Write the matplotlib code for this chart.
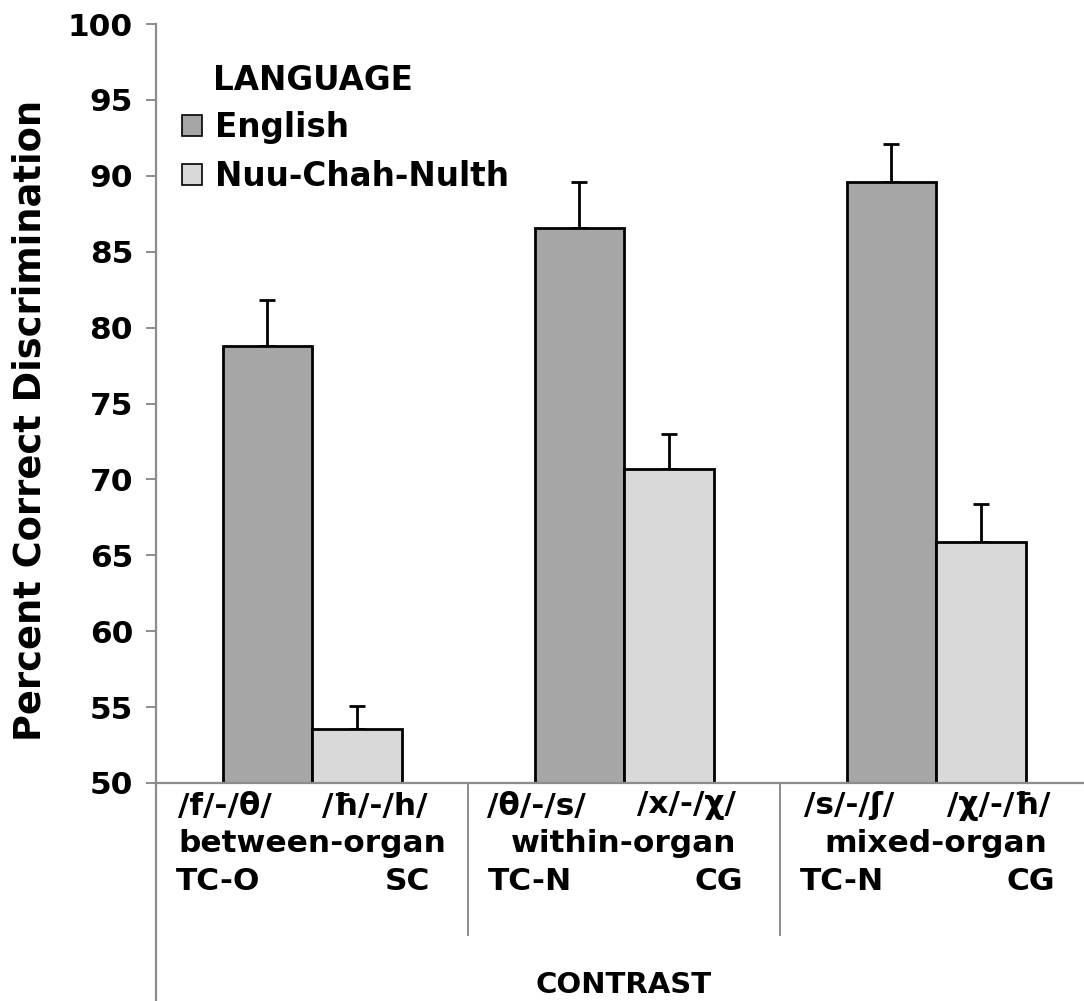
import matplotlib
matplotlib.use("Agg")
import matplotlib.pyplot as plt
import matplotlib.transforms as mtransforms
from matplotlib.patches import Patch
import numpy as np

# ---- data ----
contrast_pairs_left = ["/f/-/θ/", "/θ/-/s/", "/s/-/ʃ/"]
contrast_pairs_right = ["/ħ/-/h/", "/x/-/χ/", "/χ/-/ħ/"]
contrast_types = ["between-organ", "within-organ", "mixed-organ"]
code_left = ["TC-O", "TC-N", "TC-N"]
code_right = ["SC", "CG", "CG"]
languages = ["English", "Nuu-Chah-Nulth"]
english_vals = [78.8, 86.55, 89.6]
english_err = [3.0, 3.05, 2.47]
nuu_vals = [53.58, 70.7, 65.85]
nuu_err = [1.52, 2.3, 2.5]
yticks = [50, 55, 60, 65, 70, 75, 80, 85, 90, 95, 100]

FONT = "DejaVu Sans"
plt.rcParams['font.family'] = [FONT]
plt.rcParams['font.weight'] = 'bold'

W, H = 1084, 1001
fig = plt.figure(figsize=(W / 100, H / 100), dpi=100)
ax_left, ax_right, ax_top, ax_bottom = 156, 1084, 24, 783
ax = fig.add_axes([ax_left / W, (H - ax_bottom) / H, (ax_right - ax_left) / W, (ax_bottom - ax_top) / H])

px_per_unit = 312.0
xmin = -0.5
xmax = xmin + (ax_right - ax_left) / px_per_unit
bw = 89.5 / px_per_unit

x = np.arange(len(contrast_types))
c_eng = "#a6a6a6"
c_nuu = "#d9d9d9"
ax.bar(x - bw / 2, english_vals, bw, color=c_eng, edgecolor="black", linewidth=2, zorder=2)
ax.bar(x + bw / 2, nuu_vals, bw, color=c_nuu, edgecolor="black", linewidth=2, zorder=2)
ax.errorbar(x - bw / 2, english_vals, yerr=[np.zeros(3), english_err], fmt='none',
            ecolor='black', elinewidth=2, capsize=6, capthick=2, zorder=1)
ax.errorbar(x + bw / 2, nuu_vals, yerr=[np.zeros(3), nuu_err], fmt='none',
            ecolor='black', elinewidth=2, capsize=6, capthick=2, zorder=1)

ax.set_xlim(xmin, xmax)
ax.set_ylim(50, 100)
ax.set_yticks(yticks)
ax.set_yticklabels([str(t) for t in yticks], fontsize=22.5, fontweight='bold')
ax.set_xticks([])

axis_gray = "#8c8c8c"
for s in ["top", "right"]:
    ax.spines[s].set_visible(False)
ax.spines["left"].set_visible(False)
ax.spines["bottom"].set_color(axis_gray)
ax.spines["bottom"].set_linewidth(1.6)
ax.tick_params(axis='y', direction='out', length=7.5, width=1.4, color=axis_gray, pad=9)

# extended left axis line down to figure bottom
ax.plot([0, 0], [1, -(H - ax_bottom) / (ax_bottom - ax_top)], transform=ax.transAxes,
        color=axis_gray, lw=1.6, clip_on=False, zorder=3)

# group separators
trans = mtransforms.blended_transform_factory(ax.transData, ax.transAxes)
sep_len = (935 - ax_bottom) / (ax_bottom - ax_top)
for b in [0.5, 1.5]:
    ax.plot([b, b], [0, -sep_len], transform=trans, color=axis_gray, lw=1.4, clip_on=False)

def ay(py):
    return (ax_bottom - py) / (ax_bottom - ax_top)

fs = 22.5
for i in range(len(contrast_types)):
    ax.text(i - 0.28, ay(806), contrast_pairs_left[i], transform=trans, ha='center', va='center',
            fontsize=fs, fontweight='bold')
    ax.text(i + 0.20, ay(806), contrast_pairs_right[i], transform=trans, ha='center', va='center',
            fontsize=fs, fontweight='bold')
    ax.text(i, ay(844), contrast_types[i], transform=trans, ha='center', va='center',
            fontsize=fs, fontweight='bold')
    ax.text(i - 0.5 + 0.065, ay(881), code_left[i], transform=trans, ha='left', va='center',
            fontsize=fs, fontweight='bold')
    ax.text(i + 0.5 - 0.12, ay(881), code_right[i], transform=trans, ha='right', va='center',
            fontsize=fs, fontweight='bold')

ax.text(1.0, ay(985), "CONTRAST", transform=trans, ha='center', va='center', fontsize=21, fontweight='bold')

fig.text(30 / W, 1 - 420 / H, "Percent Correct Discrimination", rotation=90, ha='center', va='center',
         fontsize=26.5, fontweight='bold')

# legend
handles = [Patch(facecolor=c_eng, edgecolor='black', linewidth=1.2),
           Patch(facecolor=c_nuu, edgecolor='black', linewidth=1.2)]
leg = ax.legend(handles, languages, loc='upper left', bbox_to_anchor=(182 / W, 1 - 111 / H),
                bbox_transform=fig.transFigure, frameon=False,
                prop={'weight': 'bold', 'size': 23.5}, handlelength=0.6, handleheight=0.6,
                handletextpad=0.4, labelspacing=0.48, borderpad=0, borderaxespad=0)
fig.text(213 / W, 1 - 80 / H, "LANGUAGE", ha='left', va='center', fontsize=23.5, fontweight='bold')

fig.savefig("out.png", dpi=100)
